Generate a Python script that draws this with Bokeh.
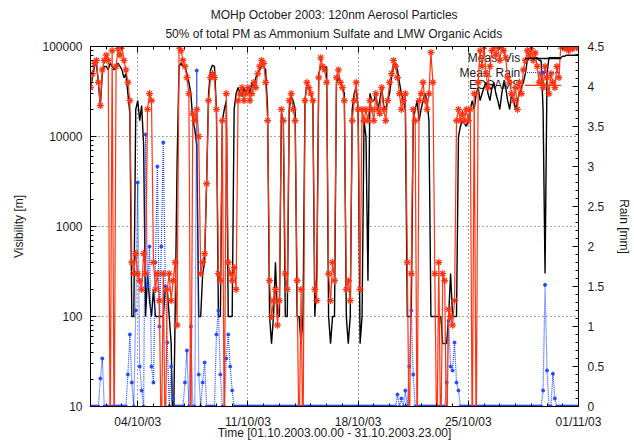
import datetime as dt
from bokeh.plotting import figure
from bokeh.models import (Range1d, LinearScale, LinearAxis, DatetimeAxis, FixedTicker, LogTicker,
                          SingleIntervalTicker, CustomJSTickFormatter, Title, ColumnDataSource)
from bokeh.core.properties import value
from bokeh.embed import file_html
from bokeh.resources import INLINE

# ---------------- data (3-hourly samples, 01.10.2003 00:00 .. 01.11.2003 00:00) ----------------
START = dt.datetime(2003, 10, 1)
STEP_HOURS = 3

# Measured visibility [m]
vis = [
    35000, 45000, 60000, 65000, 40000, 22000, 50000, 60000,   # 01
    60000, 55000, 65000, 60000, 55000, 60000, 65000, 60000,   # 02
    55000, 45000, 50000, 30000, 18000, 100, 100, 20000,       # 03
    25000, 15000, 22000, 8000, 100, 300, 150, 100,            # 04
    200, 100, 100, 100, 100, 100, 200, 200,                   # 05
    100, 50, 3, 100, 5000, 60000, 65000, 60000,               # 06
    60000, 50000, 40000, 30000, 15000, 12000, 8000, 100,      # 07
    100, 300, 400, 3000, 30000, 55000, 62000, 60000,          # 08
    20000, 100, 100, 15000, 20000, 25000, 100, 100,           # 09
    100, 20000, 30000, 35000, 30000, 28000, 35000, 30000,     # 10
    35000, 30000, 40000, 35000, 45000, 50000, 55000, 60000,   # 11
    60000, 55000, 20000, 100, 50, 100, 400, 100,              # 12
    100, 18000, 15000, 100, 100, 20000, 28000, 25000,         # 13
    20000, 100, 100, 50, 100, 25000, 40000, 35000,            # 14
    30000, 25000, 100, 300, 50000, 60000, 60000, 58000,       # 15
    60000, 100, 50, 100, 100, 40000, 45000, 40000,            # 16
    35000, 30000, 100, 50, 100, 20000, 30000, 35000,          # 17
    20000, 50, 100, 15000, 10000, 250, 30000, 25000,          # 18
    25000, 30000, 20000, 25000, 35000, 22000, 20000, 25000,   # 19
    30000, 45000, 60000, 66000, 55000, 40000, 30000, 25000,   # 20
    20000, 100, 100, 100, 15000, 20000, 25000, 15000,         # 21
    20000, 25000, 30000, 25000, 15000, 100, 100, 100,         # 22
    100, 100, 100, 50, 50, 50, 100, 300,                      # 23
    100, 100, 100, 10000, 13000, 15000, 14000, 13000,         # 24
    15000, 20000, 25000, 20000, 30000, 35000, 25000, 30000,   # 25
    35000, 40000, 30000, 25000, 35000, 40000, 30000, 25000,   # 26
    20000, 30000, 40000, 35000, 25000, 20000, 30000, 25000,   # 27
    20000, 25000, 30000, 35000, 40000, 50000, 70000, 75000,   # 28
    75000, 75000, 75000, 75000, 70000, 70000, 20000, 300,     # 29
    50000, 75000, 75000, 75000, 75000, 75000, 75000, 75000,   # 30
    78000, 78000, 80000, 80000, 80000, 80000, 80000, 80000,   # 31
    80000,
]

# Modelled visibility (EOSAMS) [m]
eosams = [
    35000, 50000, 65000, 70000, 40000, 22000, 55000, 70000,
    80000, 70000, 3, 90000, 3, 60000, 95000, 80000,
    100000, 70000, 55000, 40000, 25000, 400, 300, 500,
    300, 250, 200, 500, 300, 20000, 30000, 25000,
    400, 200, 300, 150, 3, 300, 3, 200,
    300, 150, 250, 400, 80, 100000, 90000, 70000,
    60000, 45000, 30000, 3, 18000, 15000, 20000, 10000,
    300, 400, 500, 3000, 25000, 45000, 50000, 45000,
    20000, 300, 250, 15000, 3, 30000, 400, 300,
    250, 350, 200, 25000, 30000, 35000, 25000, 30000,
    35000, 25000, 30000, 40000, 35000, 50000, 60000, 70000,
    65000, 40000, 15000, 250, 100, 150, 200, 80,
    150, 20000, 15000, 300, 200, 25000, 30000, 20000,
    15000, 250, 3, 200, 3, 25000, 40000, 35000,
    30000, 25000, 200, 150, 45000, 75000, 60000, 55000,
    40000, 300, 150, 400, 250, 45000, 55000, 40000,
    35000, 25000, 200, 250, 150, 15000, 25000, 40000,
    20000, 200, 20000, 15000, 20000, 15000, 25000, 20000,
    15000, 30000, 20000, 18000, 35000, 20000, 15000, 25000,
    40000, 50000, 70000, 60000, 45000, 30000, 20000, 25000,
    30000, 400, 3, 300, 20000, 15000, 3, 25000,
    30000, 40000, 25000, 20000, 30000, 86000, 40000, 300,
    3, 400, 3, 300, 250, 3, 120, 100,
    80, 150, 15000, 20000, 15000, 18000, 15000, 20000,
    15000, 20000, 3, 30000, 3, 40000, 90000, 60000,
    100000, 50000, 35000, 60000, 90000, 100000, 80000, 100000,
    70000, 100000, 90000, 75000, 45000, 40000, 30000, 25000,
    35000, 20000, 40000, 30000, 55000, 70000, 90000, 80000,
    95000, 70000, 85000, 60000, 40000, 50000, 35000, 60000,
    45000, 30000, 50000, 40000, 35000, 60000, 45000, 100000,
    100000, 95000, 100000, 90000, 100000, 95000, 100000, 100000,
    95000,
]

# Measured rain [mm]
rain = [
    0, 0, 0, 0, 0, 0.35, 0.6, 0,
    0, 0, 0, 0, 0, 0, 0, 0,
    0, 0, 0, 0.4, 0.9, 0.3, 0, 1.2,
    2.8, 0.5, 0.2, 0, 3.4, 1.5, 2.0, 0.5,
    0.3, 1.8, 3.0, 1.0, 2.0, 3.3, 1.5, 0.8,
    0, 0.5, 0.1, 0, 0, 0, 0, 0,
    0.3, 0.7, 0, 1.0, 0, 0, 4.2, 0.4,
    0, 0.3, 0.55, 0, 0, 0, 0, 0,
    0.9, 1.2, 0.4, 0, 0, 0.6, 0.9, 0.5,
    0.2, 0, 0, 0, 0, 0, 0, 0,
    0, 0, 0, 0, 0, 0, 0, 0,
    0, 0, 0, 0, 0, 0, 0, 0,
    0, 0, 0, 0, 0, 0, 0, 0,
    0, 0, 0, 0, 0, 0, 0, 0,
    0, 0, 0, 0, 0, 0, 0, 0,
    0, 0, 0, 0, 0, 0, 0, 0,
    0, 0, 0, 0, 0, 0, 0, 0,
    0, 0, 0, 0, 0, 0, 0, 0,
    0, 0, 0, 0, 0, 0, 0, 0,
    0, 0, 0, 0, 0.15, 0, 0.1, 0,
    0.2, 0, 0.5, 1.2, 0.4, 0, 0, 0,
    0, 0, 0, 0, 0, 0, 0, 0,
    0, 0, 0, 0, 0, 0.3, 1.07, 0.5,
    0.45, 0.8, 0.3, 0.2, 0, 0, 0, 0,
    0, 0, 0, 0, 0, 0, 0, 0,
    0, 0, 0, 0, 0, 0, 0, 0,
    0, 0, 0, 0, 0, 0, 0, 0,
    0, 0, 0, 0, 0, 0, 0, 0,
    0, 0, 0, 0, 0, 0, 0.2, 1.52,
    0.45, 0, 0, 0.41, 0.1, 0, 0, 0,
    0, 0, 0, 0, 0, 0, 0, 0,
    0,
]

tick_times = [dt.datetime(2003, 10, 4), dt.datetime(2003, 10, 11), dt.datetime(2003, 10, 18),
              dt.datetime(2003, 10, 25), dt.datetime(2003, 11, 1)]
tick_labels = ["04/10/03", "11/10/03", "18/10/03", "25/10/03", "01/11/03"]
series_names = ["Meas. Vis", "Meas. Rain", "EOSAMS"]
title_lines = ["MOHp October 2003: 120nm Aerosol Particles",
               "50% of total PM as Ammonium Sulfate and LMW Organic Acids"]
x_title = "Time [01.10.2003.00.00 - 31.10.2003.23.00]"
y_title = "Visibility [m]"
y2_title = "Rain [mm]"

# ---------------- helpers ----------------
EPOCH = dt.datetime(1970, 1, 1)


def ms(d):
    return (d - EPOCH).total_seconds() * 1000.0


times = [START + dt.timedelta(hours=STEP_HOURS * i) for i in range(len(vis))]
END = dt.datetime(2003, 11, 1)

FONT = "Liberation Sans"
TXT = "#1a1a1a"
BLUE = "#2048ff"
RED = "#ff3311"

p = figure(width=634, height=443, x_axis_type="datetime", y_axis_type="log",
           x_range=Range1d(START, END), y_range=Range1d(10, 100000),
           output_backend="svg", toolbar_location=None,
           min_border_left=90, min_border_right=55, min_border_top=46, min_border_bottom=37)
p.background_fill_color = "white"
p.border_fill_color = "white"
p.outline_line_color = "black"
p.outline_line_width = 1

p.extra_y_ranges = {"rain": Range1d(0, 4.5)}
p.extra_y_scales = {"rain": LinearScale()}

# x axis
major_ms = [ms(t) for t in tick_times]
minor_ms = [ms(START + dt.timedelta(days=d)) for d in range(0, 32)]
xticker = FixedTicker(ticks=major_ms, minor_ticks=minor_ms)
xfmt = CustomJSTickFormatter(args=dict(major_pos=major_ms, major_txt=tick_labels),
                             code="const i = major_pos.indexOf(tick); return i >= 0 ? major_txt[i] : '';")
xa = p.xaxis[0]
xa.ticker = xticker
xa.formatter = xfmt
xa.axis_label = x_title

# top mirror axis (ticks only)
top = DatetimeAxis(ticker=xticker, formatter=CustomJSTickFormatter(code="return '';"))
p.add_layout(top, "above")

# left axis
ya = p.yaxis[0]
ya.ticker = LogTicker(num_minor_ticks=10, mantissas=[1])
ya.formatter = CustomJSTickFormatter(code="return tick.toFixed(0);")
ya.axis_label = y_title

# right axis
ra = LinearAxis(y_range_name="rain", axis_label=y2_title,
                ticker=SingleIntervalTicker(interval=0.5, num_minor_ticks=5),
                formatter=CustomJSTickFormatter(code="return String(Math.round(tick*10)/10);"))
p.add_layout(ra, "right")

for ax in [xa, top, ya, ra]:
    ax.axis_line_color = "black"
    ax.major_tick_line_color = "black"
    ax.minor_tick_line_color = "black"
    ax.major_tick_in = 6
    ax.major_tick_out = 0
    ax.minor_tick_in = 3
    ax.minor_tick_out = 0
    ax.major_label_text_font = FONT
    ax.major_label_text_font_size = "12px"
    ax.major_label_text_color = TXT
    ax.axis_label_text_font = FONT
    ax.axis_label_text_font_size = "12px"
    ax.axis_label_text_font_style = "normal"
    ax.axis_label_text_color = TXT

top.major_label_standoff = 0
xa.major_label_standoff = 8
xa.axis_label_standoff = -6
ya.major_label_standoff = 8
ya.axis_label_standoff = 13
ra.major_label_standoff = 9
ra.axis_label_standoff = 10

# grids
p.xgrid.ticker = FixedTicker(ticks=major_ms)
for g in [p.xgrid[0], p.ygrid[0]]:
    g.grid_line_color = "black"
    g.grid_line_alpha = 0.7
    g.grid_line_dash = "1 3"
    g.grid_line_width = 1

# two title lines (second line added first: closest to the frame)
t2 = Title(text=title_lines[1], align="center", text_font=FONT, text_font_size="12px",
           text_font_style="normal", text_color=TXT, standoff=12)
t1 = Title(text=title_lines[0], align="center", text_font=FONT, text_font_size="12px",
           text_font_style="normal", text_color=TXT, standoff=-6)
p.add_layout(t2, "above")
p.add_layout(t1, "above")

# legend (gnuplot style: text right-aligned, sample to the right)
leg_text_x = START + dt.timedelta(days=27.3)
leg_x0 = START + dt.timedelta(days=27.6)
leg_x1 = START + dt.timedelta(days=29.9)
leg_xm = START + dt.timedelta(days=28.75)
leg_y = [73600, 51400, 36900]
p.text(x=[leg_text_x] * 3, y=leg_y, text=series_names, text_align="right", text_baseline="middle",
       text_font=value(FONT), text_font_size="12px", text_color=TXT)

# data
src = ColumnDataSource(dict(t=times, vis=vis, eos=eosams, rain=rain))
p.line("t", "vis", source=src, color="black", line_width=1.4)
p.line("t", "rain", source=src, y_range_name="rain", color=BLUE, line_width=1.2, line_dash="1 1")
p.scatter("t", "rain", source=src, y_range_name="rain", marker="circle", size=3, color=BLUE)
p.line("t", "eos", source=src, color=RED, line_width=1.2)
p.scatter("t", "eos", source=src, marker="asterisk", size=7, line_color=RED, line_width=1.2)

# legend samples
p.line([leg_x0, leg_x1], [leg_y[0]] * 2, color="black", line_width=1.4)
p.line([leg_x0, leg_x1], [leg_y[1]] * 2, color=BLUE, line_width=1.2, line_dash="1 1")
p.scatter([leg_xm], [leg_y[1]], marker="circle", size=3, color=BLUE)
p.line([leg_x0, leg_x1], [leg_y[2]] * 2, color=RED, line_width=1.2)
p.scatter([leg_xm], [leg_y[2]], marker="asterisk", size=7, line_color=RED, line_width=1.2)

open("out.html", "w").write(file_html(p, INLINE))
